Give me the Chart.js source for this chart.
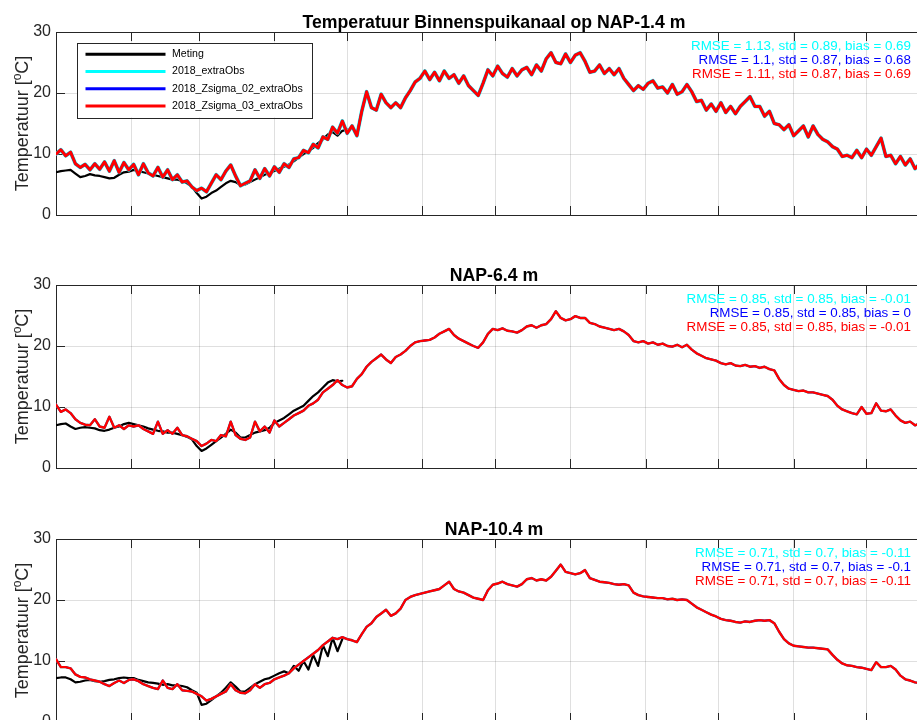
<!DOCTYPE html>
<html><head><meta charset="utf-8">
<script src="https://cdn.jsdelivr.net/npm/chart.js@4.4.1/dist/chart.umd.min.js"></script>
<style>
html,body{margin:0;padding:0;background:#fff;overflow:hidden;width:917px;height:720px;}
#wrap{position:relative;width:917px;height:720px;overflow:hidden;background:#fff;}
canvas{position:absolute;left:0;}
</style></head><body><div id="wrap">
<canvas id="c1" width="960" height="240" style="top:0px"></canvas>
<canvas id="c2" width="960" height="240" style="top:253px"></canvas>
<canvas id="c3" width="960" height="240" style="top:507px"></canvas>
</div>
<script>
// ---------- data (day of year 2018, sampled every 2 days) ----------
const seriesLabels = ['Meting', '2018_extraObs', '2018_Zsigma_02_extraObs', '2018_Zsigma_03_extraObs'];
const seriesColors = ['#000000', '#00FFFF', '#0000FF', '#FF0000'];
const monthStarts = [0, 31, 59, 90, 120, 151, 181, 212, 243, 273, 304, 334];
const yTicks = [0, 10, 20, 30];
const dayStep = 2;

const titles = ['Temperatuur Binnenspuikanaal op NAP-1.4 m', 'NAP-6.4 m', 'NAP-10.4 m'];
const statsP1 = ['RMSE = 1.13, std = 0.89, bias = 0.69', 'RMSE = 1.1, std = 0.87, bias = 0.68', 'RMSE = 1.11, std = 0.87, bias = 0.69'];
const statsP2 = ['RMSE = 0.85, std = 0.85, bias = -0.01', 'RMSE = 0.85, std = 0.85, bias = 0', 'RMSE = 0.85, std = 0.85, bias = -0.01'];
const statsP3 = ['RMSE = 0.71, std = 0.7, bias = -0.11', 'RMSE = 0.71, std = 0.7, bias = -0.1', 'RMSE = 0.71, std = 0.7, bias = -0.11'];

// Model runs (the three runs overlap almost exactly)
const p1Model = [
10.0,10.7,9.7,10.3,8.4,7.8,8.3,7.4,8.4,7.5,
8.7,7.2,8.9,7.0,8.6,7.4,8.3,6.6,8.4,6.9,
6.4,7.8,6.2,7.4,5.8,6.6,5.4,5.6,4.6,4.0,
4.4,3.8,5.2,6.6,5.8,7.2,8.2,6.4,4.8,5.2,
5.6,7.4,6.0,7.6,6.4,7.9,7.0,8.4,7.8,9.2,
9.4,10.6,10.2,11.6,11.0,12.8,12.4,14.4,13.4,15.4,
13.4,14.6,13.0,17.0,20.2,17.6,17.2,19.8,18.4,17.6,
18.4,17.6,19.2,20.4,21.8,22.4,23.6,22.2,23.4,22.0,
23.6,22.4,23.0,21.6,22.8,21.2,20.4,19.6,21.6,23.8,
22.8,24.4,23.2,22.6,24.0,22.8,23.8,24.2,23.0,24.6,
23.6,25.6,26.6,25.0,24.8,26.4,25.0,26.2,26.6,25.2,
23.4,23.6,24.6,23.2,24.0,23.0,24.0,22.4,21.4,20.4,
21.2,20.6,21.6,22.0,20.8,21.0,20.0,21.4,19.8,20.2,
21.4,20.2,18.6,18.8,17.2,18.2,17.0,18.4,16.8,17.8,
16.6,17.8,18.6,19.4,17.8,17.8,16.2,17.0,15.0,14.8,
14.0,14.8,13.0,13.8,14.6,12.8,14.6,13.2,12.4,12.0,
11.2,10.8,9.6,9.8,9.4,10.6,9.4,10.8,9.8,11.2,
12.6,9.6,9.8,8.4,9.6,8.2,9.2,7.6,8.4,7.6,
7.6,8.0,7.4];
const p2Model = [
10.4,9.2,9.6,9.0,8.0,7.4,7.1,7.0,8.0,6.8,
6.6,8.4,6.6,7.0,6.4,7.0,6.8,7.0,6.4,6.0,
5.6,7.6,5.6,6.2,5.6,6.6,5.4,5.2,4.8,4.4,
3.6,4.0,4.6,4.4,5.4,5.2,7.6,5.4,4.8,4.6,
5.0,7.6,6.0,6.8,5.8,7.8,6.8,7.4,8.0,8.6,
9.0,9.4,10.2,10.6,11.2,12.4,13.0,13.6,14.4,13.6,
13.2,13.4,14.6,15.4,16.6,17.4,18.0,18.6,17.8,17.2,
18.2,18.6,19.2,20.0,20.6,20.8,20.9,21.0,21.4,22.0,
22.4,22.8,21.8,21.2,20.8,20.4,20.0,19.7,20.6,22.0,
22.8,22.6,22.9,22.5,22.4,22.2,22.6,23.2,23.4,23.0,
23.4,23.6,24.4,25.7,24.6,24.2,24.4,24.9,24.6,24.6,
23.8,23.6,23.2,23.0,22.8,22.6,22.8,22.4,21.8,20.8,
20.6,20.8,20.4,20.6,20.2,20.4,20.0,19.9,20.2,19.8,
20.2,19.4,18.8,18.4,18.0,17.8,17.6,17.2,17.0,17.2,
16.8,16.7,16.9,16.6,16.7,16.4,16.6,16.2,16.0,14.6,
13.6,13.0,12.8,12.6,12.7,12.4,12.4,12.2,12.0,11.8,
11.2,10.2,9.6,9.3,9.0,8.8,10.0,8.9,9.0,10.6,
9.4,9.3,9.6,8.6,7.8,7.4,7.6,7.0,7.3,7.0,
6.9,7.1,6.8];
const p3Model = [
10.3,9.0,9.0,8.8,7.8,7.4,7.3,7.0,6.8,6.6,
6.2,5.9,6.4,6.8,6.4,6.9,7.0,6.7,6.2,5.9,
5.6,5.4,6.8,5.6,5.4,6.2,5.2,5.1,5.0,4.6,
4.2,3.5,3.8,4.2,4.6,5.0,6.2,5.2,4.8,4.7,
5.2,6.2,5.6,6.2,6.4,7.0,7.3,7.6,8.0,8.8,
9.4,10.0,10.6,11.2,11.8,12.6,13.2,13.8,13.6,13.9,
13.6,13.4,13.1,14.4,15.6,16.2,17.2,17.8,18.4,17.4,
17.8,18.6,20.0,20.5,20.8,21.0,21.2,21.4,21.6,21.8,
22.4,23.0,21.8,21.4,21.2,20.8,20.4,20.2,20.0,21.6,
22.5,22.7,23.0,22.6,22.4,22.2,22.6,23.4,23.6,23.2,
23.4,23.2,23.8,24.8,25.8,24.6,24.4,24.2,24.4,24.9,
23.6,23.3,23.0,22.9,22.8,22.6,22.5,22.6,22.4,21.2,
20.8,20.6,20.5,20.4,20.3,20.3,20.1,20.2,20.0,20.1,
20.0,19.4,18.8,18.4,18.0,17.6,17.3,16.9,16.7,16.6,
16.4,16.3,16.5,16.4,16.6,16.7,16.6,16.7,16.2,14.8,
13.6,12.9,12.5,12.4,12.3,12.2,12.2,12.1,12.0,11.9,
11.0,10.2,9.6,9.3,9.2,9.0,8.9,8.7,8.5,9.8,
9.0,9.0,9.2,8.6,7.6,7.0,6.8,6.5,6.4,6.3,
6.2,6.1,6.0];

// Measurements (Meting), available until end of April
const p1Obs = [
7.0,7.2,7.3,7.4,6.8,6.2,6.4,6.7,6.5,6.4,
6.2,6.0,6.1,6.6,7.0,7.1,7.4,7.2,7.0,6.8,
6.6,6.4,6.2,6.0,5.8,5.8,5.6,5.2,4.6,3.6,
2.7,3.0,3.6,4.0,4.6,5.2,5.6,5.4,4.9,5.0,
5.4,5.8,6.2,6.6,6.9,7.2,7.6,7.9,8.3,8.8,
9.4,10.0,10.4,11.0,11.8,12.4,13.2,13.6,13.0,13.8,
14.0];
const p2Obs = [
7.0,7.2,7.3,6.8,6.4,6.6,6.7,6.6,6.5,6.2,
6.1,6.3,6.6,6.8,7.2,7.4,7.2,7.0,6.8,6.5,
6.3,6.1,6.0,5.8,5.8,5.6,5.4,5.1,4.7,3.6,
2.8,3.2,3.8,4.4,5.0,5.6,6.3,5.8,5.0,5.0,
5.4,5.8,6.0,6.2,6.6,7.4,7.8,8.2,8.8,9.4,
9.8,10.2,11.0,11.8,12.4,13.2,14.0,14.4,14.2,14.3];
const p3Obs = [
7.2,7.3,7.3,7.0,6.5,6.6,6.8,6.9,6.7,6.6,
6.7,6.9,7.0,7.2,7.3,7.2,7.2,6.9,6.7,6.5,
6.4,6.3,6.1,6.2,6.0,6.0,5.9,5.7,5.2,4.8,
2.8,3.0,3.6,4.2,4.8,5.6,6.5,5.8,5.0,5.0,
5.6,6.2,6.6,7.0,7.2,7.6,8.0,8.3,8.0,9.2,
8.4,10.0,8.6,11.0,9.2,12.6,10.8,13.8,11.6,13.6];

// ---------- rendering ----------
const FONT = '"Liberation Sans", Arial, Helvetica, sans-serif';
const AXIS_COLOR = '#262626';
const GRID_COLOR = 'rgba(38,38,38,0.15)';

function toXY(values) {
  return values.map((v, i) => ({ x: i * dayStep, y: v }));
}

const decor = {
  id: 'decor',
  beforeDatasetsDraw(chart) {
    const { ctx, chartArea: a, scales } = chart;
    ctx.save();
    ctx.strokeStyle = AXIS_COLOR;
    ctx.lineWidth = 1;
    ctx.beginPath();
    ctx.rect(Math.round(a.left) + 0.5, Math.round(a.top) + 0.5, Math.round(a.right - a.left), Math.round(a.bottom - a.top));
    scales.x.ticks.forEach(t => {
      const px = Math.round(scales.x.getPixelForValue(t.value)) + 0.5;
      ctx.moveTo(px, a.top); ctx.lineTo(px, a.top + 9);
      ctx.moveTo(px, a.bottom); ctx.lineTo(px, a.bottom - 9);
    });
    scales.y.ticks.forEach(t => {
      const py = Math.round(scales.y.getPixelForValue(t.value)) + 0.5;
      ctx.moveTo(a.left, py); ctx.lineTo(a.left + 9, py);
      ctx.moveTo(a.right, py); ctx.lineTo(a.right - 9, py);
    });
    ctx.stroke();
    ctx.restore();
  },
  afterDraw(chart, args, opts) {
    const { ctx, chartArea: a } = chart;
    ctx.save();
    // title
    ctx.fillStyle = '#000000';
    ctx.font = 'bold 17.7px ' + FONT;
    ctx.textAlign = 'center';
    ctx.textBaseline = 'alphabetic';
    ctx.fillText(opts.title, (a.left + a.right) / 2, a.top - 4);
    // y label with superscript o
    const cy = (a.top + a.bottom) / 2;
    ctx.save();
    ctx.translate(28, cy);
    ctx.rotate(-Math.PI / 2);
    ctx.fillStyle = AXIS_COLOR;
    const big = '18px ' + FONT, small = '12px ' + FONT;
    const p1 = 'Temperatuur [', p2 = 'o', p3 = 'C]';
    ctx.font = big; const w1 = ctx.measureText(p1).width, w3 = ctx.measureText(p3).width;
    ctx.font = small; const w2 = ctx.measureText(p2).width;
    let x0 = -(w1 + w2 + w3) / 2;
    ctx.textAlign = 'left';
    ctx.font = big; ctx.fillText(p1, x0, 0);
    ctx.font = small; ctx.fillText(p2, x0 + w1, -7);
    ctx.font = big; ctx.fillText(p3, x0 + w1 + w2, 0);
    ctx.restore();
    // statistics text
    ctx.font = '13.4px ' + FONT;
    ctx.textAlign = 'right';
    ctx.textBaseline = 'middle';
    opts.stats.forEach((s, i) => {
      ctx.fillStyle = seriesColors[i + 1];
      ctx.fillText(s, a.right - 21, a.top + 14 + i * 14);
    });
    // legend
    if (opts.legend) {
      const bx = a.left + 21, by = a.top + 10.5, bw = 235, bh = 75;
      ctx.fillStyle = '#ffffff';
      ctx.fillRect(bx, by, bw, bh);
      ctx.strokeStyle = AXIS_COLOR;
      ctx.lineWidth = 1;
      ctx.strokeRect(Math.round(bx) + 0.5, Math.round(by) + 0.5, bw, bh);
      ctx.font = '10.6px ' + FONT;
      ctx.textAlign = 'left';
      ctx.textBaseline = 'middle';
      chart.data.datasets.forEach((d, i) => {
        const ry = by + 11.8 + i * 17.2;
        ctx.strokeStyle = d.borderColor;
        ctx.lineWidth = 3;
        ctx.beginPath(); ctx.moveTo(bx + 8.5, ry); ctx.lineTo(bx + 88.5, ry); ctx.stroke();
        ctx.fillStyle = '#000000';
        ctx.fillText(d.label, bx + 95, ry);
      });
    }
    ctx.restore();
  }
};

function makeChart(id, model, obs, title, stats, legend, modelWidth, cyanWidth) {
  const widths = { 1: cyanWidth, 2: modelWidth - 0.6, 3: modelWidth };
  const modelSets = [1, 2, 3].map(k => ({
    label: seriesLabels[k],
    data: toXY(model),
    borderColor: seriesColors[k],
    borderWidth: widths[k],
    order: 3 - k
  }));
  const datasets = [{
    label: seriesLabels[0], data: toXY(obs), borderColor: seriesColors[0], borderWidth: 2.2, order: 3
  }].concat(modelSets);
  datasets.forEach(d => { d.pointRadius = 0; d.fill = false; d.tension = 0; d.borderJoinStyle = 'round'; d.borderCapStyle = 'round'; });
  return new Chart(document.getElementById(id), {
    type: 'line',
    data: { datasets },
    plugins: [decor],
    options: {
      responsive: false, animation: false, devicePixelRatio: 1,
      layout: { padding: { left: 0, right: 28, top: 32, bottom: 25 } },
      plugins: {
        legend: { display: false }, tooltip: { enabled: false }, title: { display: false },
        decor: { title, stats, legend }
      },
      scales: {
        x: {
          type: 'linear', min: 0, max: 361,
          afterBuildTicks: s => { s.ticks = monthStarts.map(v => ({ value: v })); },
          afterFit: s => { s.height = 0; },
          ticks: { display: false },
          grid: { color: GRID_COLOR, drawTicks: false, lineWidth: 1 },
          border: { display: false }
        },
        y: {
          min: 0, max: 30,
          afterBuildTicks: s => { s.ticks = yTicks.map(v => ({ value: v })); },
          afterFit: s => { s.width = 56; },
          ticks: { font: { family: FONT, size: 16 }, color: AXIS_COLOR, padding: 5 },
          grid: { color: GRID_COLOR, drawTicks: false, lineWidth: 1 },
          border: { display: false }
        }
      }
    }
  });
}

makeChart('c1', p1Model, p1Obs, titles[0], statsP1, true, 3, 3.8);
makeChart('c2', p2Model, p2Obs, titles[1], statsP2, false, 2.4, 2.4);
makeChart('c3', p3Model, p3Obs, titles[2], statsP3, false, 2.4, 2.4);
</script></body></html>
